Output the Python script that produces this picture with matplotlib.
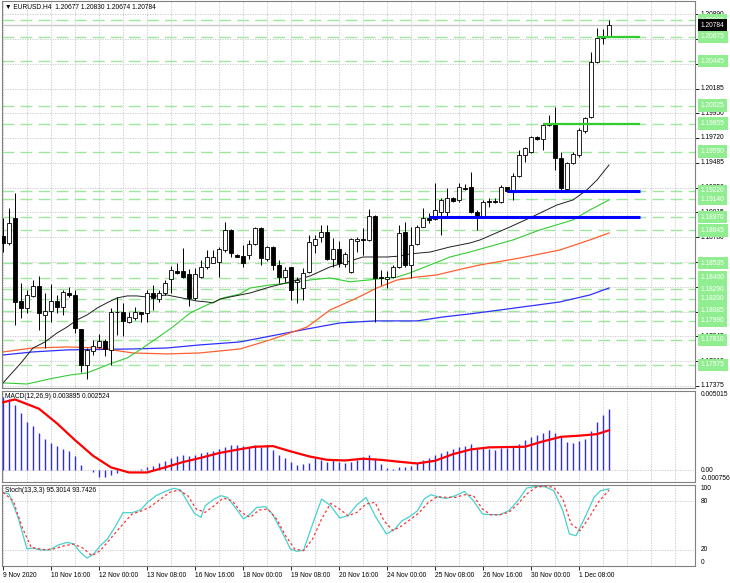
import matplotlib
matplotlib.use('Agg')
import matplotlib.pyplot as plt
import numpy as np

plt.rcParams['font.family'] = ['Liberation Sans', 'DejaVu Sans']
FS = 4.8

# EURUSD H4 candles, bar 0 = 9 Nov 2020 08:00
opens = [1.18792, 1.18730, 1.18960, 1.18182, 1.18109, 1.18226, 1.18320, 1.18046, 1.18087, 1.18182,
         1.18125, 1.18257, 1.18235, 1.17911, 1.17574, 1.17709, 1.17747, 1.17800, 1.17716, 1.18078,
         1.18078, 1.17983, 1.18015, 1.18078, 1.18062, 1.18251, 1.18194, 1.18251, 1.18383, 1.18465,
         1.18465, 1.18434, 1.18204, 1.18409, 1.18497, 1.18541, 1.18550, 1.18660, 1.18850, 1.18613,
         1.18604, 1.18613, 1.18717, 1.18871, 1.18572, 1.18686, 1.18519, 1.18408, 1.18497, 1.18361,
         1.18298, 1.18456, 1.18708, 1.18786, 1.18834, 1.18572, 1.18667, 1.18525, 1.18456, 1.18745,
         1.18764, 1.18755, 1.18982, 1.18402, 1.18390, 1.18402, 1.18503, 1.18830, 1.18519, 1.18717,
         1.18881, 1.18960, 1.18955, 1.19023, 1.19023, 1.19149, 1.19133, 1.19243, 1.19253, 1.19023,
         1.18969, 1.19123, 1.19127, 1.19117, 1.19253, 1.19227, 1.19360, 1.19560, 1.19586, 1.19731,
         1.19709, 1.19841, 1.19848, 1.19533, 1.19237, 1.19479, 1.19558, 1.19785, 1.19920, 1.20440,
         1.20666, 1.20677]
highs = [1.18960, 1.19054, 1.19196, 1.18346, 1.18283, 1.18377, 1.18415, 1.18251, 1.18339, 1.18235,
         1.18283, 1.18308, 1.18283, 1.17911, 1.17731, 1.17810, 1.17867, 1.17816, 1.18109, 1.18220,
         1.18163, 1.18078, 1.18125, 1.18078, 1.18283, 1.18330, 1.18283, 1.18377, 1.18509, 1.18535,
         1.18676, 1.18478, 1.18487, 1.18566, 1.18660, 1.18660, 1.18692, 1.18928, 1.18856, 1.18622,
         1.18708, 1.18755, 1.18881, 1.18881, 1.18698, 1.18698, 1.18566, 1.18503, 1.18503, 1.18408,
         1.18487, 1.18802, 1.18802, 1.18897, 1.18897, 1.18771, 1.18749, 1.18645, 1.18771, 1.18786,
         1.18865, 1.19045, 1.18991, 1.18471, 1.18465, 1.18519, 1.18897, 1.18928, 1.18881, 1.18897,
         1.19054, 1.19007, 1.19290, 1.19149, 1.19243, 1.19164, 1.19290, 1.19284, 1.19401, 1.19038,
         1.19133, 1.19149, 1.19149, 1.19275, 1.19259, 1.19385, 1.19605, 1.19637, 1.19741, 1.19741,
         1.19857, 1.19936, 1.20015, 1.19589, 1.19495, 1.19583, 1.19810, 1.19920, 1.20534, 1.20755,
         1.20748, 1.20830]
lows = [1.18645, 1.18708, 1.17952, 1.18015, 1.18062, 1.18220, 1.17905, 1.17731, 1.17983, 1.18062,
        1.18046, 1.18220, 1.17873, 1.17511, 1.17438, 1.17668, 1.17731, 1.17659, 1.17574, 1.17857,
        1.17848, 1.17968, 1.17999, 1.17983, 1.17983, 1.18094, 1.18172, 1.18235, 1.18251, 1.18434,
        1.18393, 1.18131, 1.18188, 1.18393, 1.18478, 1.18535, 1.18409, 1.18645, 1.18591, 1.18591,
        1.18503, 1.18572, 1.18708, 1.18519, 1.18560, 1.18471, 1.18345, 1.18361, 1.18188, 1.18156,
        1.18188, 1.18440, 1.18629, 1.18739, 1.18566, 1.18503, 1.18503, 1.18503, 1.18440, 1.18645,
        1.18613, 1.18749, 1.17983, 1.18330, 1.18298, 1.18393, 1.18487, 1.18503, 1.18393, 1.18708,
        1.18875, 1.18912, 1.18945, 1.18802, 1.18960, 1.19117, 1.19117, 1.19227, 1.19007, 1.18850,
        1.18960, 1.19070, 1.19101, 1.19101, 1.19212, 1.19133, 1.19353, 1.19495, 1.19574, 1.19700,
        1.19605, 1.19835, 1.19416, 1.19227, 1.19227, 1.19470, 1.19542, 1.19763, 1.19904, 1.20424,
        1.20603, 1.20674]
closes = [1.18724, 1.18919, 1.18172, 1.18109, 1.18235, 1.18320, 1.18068, 1.18087, 1.18182, 1.18125,
          1.18260, 1.18235, 1.17920, 1.17574, 1.17716, 1.17756, 1.17800, 1.17722, 1.18078, 1.18072,
          1.17993, 1.18031, 1.18078, 1.18056, 1.18257, 1.18204, 1.18251, 1.18346, 1.18472, 1.18446,
          1.18409, 1.18204, 1.18434, 1.18503, 1.18591, 1.18591, 1.18667, 1.18850, 1.18629, 1.18597,
          1.18534, 1.18717, 1.18871, 1.18582, 1.18686, 1.18519, 1.18408, 1.18471, 1.18282, 1.18377,
          1.18446, 1.18739, 1.18761, 1.18834, 1.18572, 1.18667, 1.18534, 1.18623, 1.18761, 1.18761,
          1.18752, 1.18982, 1.18393, 1.18393, 1.18408, 1.18503, 1.18818, 1.18519, 1.18708, 1.18881,
          1.18960, 1.18944, 1.19038, 1.19133, 1.19149, 1.19127, 1.19253, 1.19237, 1.19023, 1.18976,
          1.19117, 1.19111, 1.19114, 1.19253, 1.19221, 1.19360, 1.19558, 1.19621, 1.19731, 1.19709,
          1.19841, 1.19854, 1.19533, 1.19243, 1.19479, 1.19564, 1.19794, 1.19904, 1.20440, 1.20666,
          1.20676, 1.20784]

date_bars = [0, 8, 16, 24, 32, 40, 48, 56, 64, 72, 80, 88, 96]
date_labels = ['9 Nov 2020', '10 Nov 16:00', '12 Nov 00:00', '13 Nov 08:00', '16 Nov 16:00',
               '18 Nov 00:00', '19 Nov 08:00', '20 Nov 16:00', '24 Nov 00:00', '25 Nov 08:00',
               '26 Nov 16:00', '30 Nov 00:00', '1 Dec 08:00']

# moving averages, read at a few bars each
ma_black_bar = [0, 3, 5, 7, 9, 10.7, 12.3, 14, 15.7, 17.3, 19, 20.7, 22.3, 24, 25.7, 27.3, 29, 30.7,
                32.3, 34, 35, 36.2, 37.8, 39.5, 41.2, 44.5, 47.8, 51.2, 54.5, 57.3, 60, 64, 66.2,
                67.8, 71.2, 74.5, 77.8, 79.5, 84.5, 87.8, 92.3, 95, 97.3, 99, 101]
ma_black = [1.17404, 1.17593, 1.17734, 1.17791, 1.17876, 1.17933, 1.17999, 1.18046, 1.18112, 1.18160,
            1.18207, 1.18226, 1.18226, 1.18216, 1.18226, 1.18235, 1.18216, 1.18197, 1.18178, 1.18169,
            1.18160, 1.18197, 1.18216, 1.18235, 1.18254, 1.18311, 1.18358, 1.18415, 1.18500, 1.18547,
            1.18594, 1.18594, 1.18603, 1.18623, 1.18641, 1.18689, 1.18726, 1.18755, 1.18878, 1.18963,
            1.19085, 1.19133, 1.19227, 1.19322, 1.19463]
ma_green_bar = [0, 4, 7.8, 11.2, 14, 17.8, 20.7, 22.8, 25.7, 28.3, 31.2, 34, 36.7, 39.5, 41.2, 44.5,
                47.8, 51.2, 54.5, 57.8, 61, 65.7, 67.8, 71.2, 74.5, 77.8, 85, 89.5, 95, 97.8, 101]
ma_green = [1.17404, 1.17394, 1.17442, 1.17479, 1.17498, 1.17583, 1.17640, 1.17716, 1.17829, 1.17933,
            1.18065, 1.18141, 1.18207, 1.18245, 1.18301, 1.18330, 1.18349, 1.18377, 1.18396, 1.18360,
            1.18377, 1.18405, 1.18443, 1.18519, 1.18594, 1.18641, 1.18755, 1.18850, 1.18944, 1.19038,
            1.19133]
ma_orange_bar = [0, 5, 10.7, 16, 21.7, 27.3, 32.8, 39.5, 44.5, 50.7, 54.5, 59, 62.3, 65.7, 69, 72.3,
                 75.7, 79.5, 86.2, 92.8, 97.8, 101]
ma_orange = [1.17697, 1.17734, 1.17744, 1.17734, 1.17687, 1.17678, 1.17687, 1.17725, 1.17810, 1.17933,
             1.18093, 1.18207, 1.18301, 1.18377, 1.18405, 1.18424, 1.18471, 1.18519, 1.18585, 1.18660,
             1.18755, 1.18821]
ma_blue_bar = [0, 5, 10.7, 21.7, 27.3, 32.8, 39.5, 50.7, 56.2, 62, 69, 73.3, 77.8, 82.8, 92.8, 97.8, 101]
ma_blue = [1.17668, 1.17697, 1.17716, 1.17725, 1.17734, 1.17763, 1.17791, 1.17914, 1.17971, 1.17990,
           1.17990, 1.18027, 1.18056, 1.18093, 1.18169, 1.18235, 1.18301]

# dashed light green price levels
levels = [1.20830, 1.20675, 1.20445, 1.20025, 1.19855, 1.19590, 1.19220, 1.19140, 1.18970,
          1.18845, 1.18535, 1.18400, 1.18290, 1.18200, 1.18085, 1.17990, 1.17810, 1.17575]
support_levels = [1.19220, 1.18970]
support_start = [84, 71]
resist_levels = [1.20675, 1.19855]
resist_start = [99, 90]
line_end = 106.2
last_price = 1.20784

price_ticks = [1.17375, 1.17610, 1.17845, 1.18075, 1.18310, 1.18545, 1.18780, 1.19015,
               1.19250, 1.19485, 1.19720, 1.19950, 1.20185, 1.20420, 1.20655, 1.20890]

# MACD(12,26,9)
macd_hist = [0.00463, 0.00450, 0.00412, 0.00359, 0.00306, 0.00279, 0.00232, 0.00194, 0.00173, 0.00152,
             0.00131, 0.00123, 0.00089, 0.00032, -0.00002, -0.00011, -0.00042, -0.00046, -0.00032, -0.00017,
             -0.00004, 0.00001, -0.00001, 0.00004, 0.00021, 0.00025, 0.00046, 0.00059, 0.00074, 0.00089,
             0.00095, 0.00089, 0.00095, 0.00106, 0.00116, 0.00120, 0.00131, 0.00144, 0.00159, 0.00159,
             0.00152, 0.00148, 0.00159, 0.00148, 0.00159, 0.00127, 0.00095, 0.00074, 0.00053, 0.00032,
             0.00038, 0.00046, 0.00074, 0.00063, 0.00053, 0.00063, 0.00053, 0.00046, 0.00053, 0.00063,
             0.00085, 0.00095, 0.00074, 0.00038, 0.00015, 0.00004, 0.00017, 0.00021, 0.00025, 0.00042,
             0.00063, 0.00074, 0.00095, 0.00110, 0.00120, 0.00131, 0.00144, 0.00152, 0.00163, 0.00131,
             0.00137, 0.00133, 0.00127, 0.00137, 0.00137, 0.00148, 0.00165, 0.00190, 0.00207, 0.00222,
             0.00232, 0.00254, 0.00232, 0.00216, 0.00179, 0.00173, 0.00184, 0.00194, 0.00249, 0.00306,
             0.00349, 0.003895]
signal_bar = [0, 2, 6, 9, 12, 15, 18, 21, 24, 27, 30, 33, 36, 39, 42, 45, 48, 51, 54, 57, 60, 63,
              66, 69, 72, 75, 78, 81, 84, 87, 90, 93, 96, 99, 101]
signal = [0.00430, 0.00448, 0.00389, 0.00296, 0.00190, 0.00091, 0.00017, -0.00015, -0.00015, 0.00017,
          0.00051, 0.00078, 0.00108, 0.00129, 0.00148, 0.00152, 0.00118, 0.00087, 0.00065, 0.00061,
          0.00072, 0.00065, 0.00053, 0.00042, 0.00059, 0.00101, 0.00131, 0.00144, 0.00146, 0.00148,
          0.00182, 0.00211, 0.00218, 0.00228, 0.002524]

# Stochastic(13,3,3)
k_bar = [0, 1, 2.5, 4, 5, 6, 7.7, 9.2, 10.7, 11.8, 12.9, 14, 15.1, 16.2, 17.4, 18.8, 20, 21.5, 22.9,
         24.1, 25.5, 27, 28.5, 29.6, 30.8, 31.9, 33, 33.7, 35.2, 36.3, 37.4, 38.9, 40.1, 41.2, 42.3,
         43.8, 44.9, 46.4, 47.9, 49, 50.1, 51.6, 53.1, 54.6, 56.1, 57.5, 59, 60.5, 62, 63.9, 65.3,
         66.5, 67.6, 69.1, 70.2, 71.3, 72.8, 73.9, 75.4, 76.9, 78.4, 79.9, 81.3, 82.8, 84.3, 85.8,
         87.3, 88.8, 90.3, 91.8, 93.3, 94.4, 95.5, 97, 98.5, 99.6, 101]
k_val = [90.9, 88.9, 60.1, 21.0, 22.2, 20.1, 19.7, 25.9, 29.2, 27.1, 16.8, 9.8, 14.8, 25.1, 33.3,
         49.8, 65.8, 65.8, 69.1, 78.6, 86.8, 92.1, 95.9, 93.8, 78.6, 65.0, 60.1, 74.5, 82.7, 86.8,
         84.7, 70.3, 58.0, 64.2, 72.4, 73.2, 64.2, 43.6, 21.0, 18.1, 19.7, 51.8, 82.7, 74.5, 59.2,
         62.1, 75.7, 84.7, 62.1, 39.5, 45.6, 55.9, 60.1, 68.3, 82.7, 88.0, 84.7, 83.5, 86.8, 92.1,
         80.6, 64.2, 63.3, 63.3, 68.3, 80.6, 96.3, 98.3, 97.9, 93.0, 68.3, 39.5, 37.4, 60.1, 84.7,
         93.0, 95.3]
d_bar = [0, 1.7, 3.2, 4.7, 6.9, 8.4, 10.3, 11.8, 13.3, 14.8, 16.2, 18.1, 20, 21.5, 22.9, 24.4, 26.3,
         27.8, 29.3, 30.8, 32.2, 33.7, 35.2, 36.7, 38.2, 39.7, 41.2, 42.7, 44.1, 45.6, 47.1, 48.6,
         50.1, 51.6, 53.1, 54.6, 56.1, 57.5, 59, 60.5, 62, 63.5, 65, 66.5, 68, 69.4, 70.9, 72.4, 73.9,
         75.4, 76.9, 78.4, 79.9, 81.3, 82.8, 84.3, 85.8, 87.3, 88.8, 90.3, 91.8, 93.3, 94.7, 96.2,
         97.7, 99.2, 101]
d_val = [90.9, 80.6, 47.7, 23.0, 20.1, 21.0, 25.1, 27.1, 22.2, 12.7, 18.9, 35.4, 51.8, 64.2, 67.5,
         72.4, 82.7, 90.9, 93.8, 86.8, 70.3, 66.2, 74.5, 83.9, 80.6, 66.2, 60.1, 69.1, 70.3, 58.0,
         37.4, 21.0, 18.9, 33.3, 58.0, 77.3, 70.3, 62.1, 66.2, 76.5, 78.6, 55.9, 43.6, 49.8, 58.0,
         66.2, 78.6, 85.6, 84.7, 84.7, 88.0, 86.8, 70.3, 63.3, 63.3, 66.2, 76.5, 88.9, 97.1, 98.7,
         97.1, 82.7, 51.8, 43.6, 60.1, 78.6, 93.7]

W, H = 730, 583
fig = plt.figure(figsize=(W / 100, H / 100), dpi=100)


def panel(top, bottom):
    return fig.add_axes([2 / W, 1 - bottom / H, 693 / W, (bottom - top) / H])


ax = panel(1, 388)
axm = panel(391, 482)
axs = panel(485, 566)

x = np.arange(len(opens))
grid_kw = dict(color='#c4c4c4', lw=0.6, ls=(0, (1.5, 1.5)), zorder=0)
lx = 1 + 6 / 693

for a in (ax, axm, axs):
    a.set_xlim(-1 / 6, 115.33)
    for s in a.spines.values():
        s.set_color('#808080')
        s.set_linewidth(0.8)
    for g in range(0, 116, 4):
        a.axvline(g, **grid_kw)
    a.tick_params(axis='x', bottom=False, labelbottom=False)
    a.tick_params(axis='y', left=False, labelleft=False)

# main price panel
ax.set_ylim(1.17356, 1.21013)
for p in price_ticks:
    ax.axhline(p, **grid_kw)
ax.set_yticks(price_ticks)
ax.tick_params(axis='y', right=True, labelright=False, length=3, width=0.6)
for p in levels:
    ax.axhline(p, color='#9de89d', lw=1.0, ls=(0, (8.5, 4.5)), zorder=1)
ax.axhline(last_price, color='#c8c8c8', lw=1.0, zorder=1)

ax.plot(ma_blue_bar, ma_blue, color='#3030ff', lw=0.9, zorder=2)
ax.plot(ma_orange_bar, ma_orange, color='#ff6030', lw=0.9, zorder=2)
ax.plot(ma_green_bar, ma_green, color='#33cc33', lw=0.8, zorder=2)
ax.plot(ma_black_bar, ma_black, color='#202020', lw=0.7, zorder=2)

o = np.array(opens)
c = np.array(closes)
up = c >= o
ax.vlines(x, lows, highs, color='black', lw=0.7, zorder=3)
ax.bar(x, np.maximum(np.abs(c - o), 0.00002), bottom=np.minimum(o, c), width=0.66,
       color=np.where(up, 'white', 'black'), edgecolor='black', linewidth=0.6, zorder=4)

ax.hlines(support_levels, support_start, line_end, color='#0000ff', lw=2.2, zorder=6)
ax.hlines(resist_levels, resist_start, line_end, color='#33cc33', lw=1.6, zorder=6)

ytr = ax.get_yaxis_transform()
for p in price_ticks:
    ax.text(lx, p, f'{p:.5f}', transform=ytr, fontsize=FS, va='center', ha='left',
            clip_on=False, zorder=10)
for p in levels:
    ax.text(lx, p, f'{p:.5f}', transform=ytr, fontsize=FS, va='center', ha='left', color='white',
            clip_on=False, zorder=11,
            bbox=dict(boxstyle='square,pad=0.4', fc='#90ee90', ec='none'))
ax.text(lx, last_price, f'{last_price:.5f}', transform=ytr, fontsize=FS, va='center', ha='left',
        color='white', clip_on=False, zorder=12,
        bbox=dict(boxstyle='square,pad=0.4', fc='black', ec='none'))
ax.text(3 / 693, 1 - 6 / 387, '▼ EURUSD.H4  1.20677 1.20830 1.20674 1.20784',
        transform=ax.transAxes, fontsize=FS, va='center', ha='left', zorder=12)

# MACD panel
axm.set_ylim(-0.000756, 0.005015)
axm.axhline(0, **grid_kw)
axm.vlines(x, 0, macd_hist, color='#2a2aff', lw=1.0, zorder=2)
axm.plot(signal_bar, signal, color='#ff0000', lw=1.6, zorder=3)
axm.text(3 / 693, 1 - 6 / 91, 'MACD(12,26,9) 0.003895 0.002524', transform=axm.transAxes,
         fontsize=FS, va='center', ha='left')
axm.text(lx, 1, '0.005015', transform=axm.transAxes, fontsize=FS, va='top', ha='left', clip_on=False)
axm.text(lx, 0, '0.00', transform=axm.get_yaxis_transform(), fontsize=FS, va='center',
         ha='left', clip_on=False)
axm.text(lx, 0, '-0.000756', transform=axm.transAxes, fontsize=FS, va='bottom', ha='left',
         clip_on=False)

# Stochastic panel
axs.set_ylim(0, 100)
axs.axhline(20, **grid_kw)
axs.axhline(80, **grid_kw)
axs.plot(k_bar, k_val, color='#48d1cc', lw=0.9, zorder=2)
axs.plot(d_bar, d_val, color='#ff3030', lw=0.9, ls=(0, (2, 2)), zorder=3)
axs.text(3 / 693, 1 - 5 / 81, 'Stoch(13,3,3) 95.3014 93.7426', transform=axs.transAxes,
         fontsize=FS, va='center', ha='left')
syt = axs.get_yaxis_transform()
axs.text(lx, 100, '100', transform=syt, fontsize=FS, va='top', ha='left', clip_on=False)
axs.text(lx, 80, '80', transform=syt, fontsize=FS, va='center', ha='left', clip_on=False)
axs.text(lx, 20, '20', transform=syt, fontsize=FS, va='center', ha='left', clip_on=False)
axs.text(lx, 0, '0', transform=syt, fontsize=FS, va='bottom', ha='left', clip_on=False)

axs.set_xticks(date_bars)
axs.set_xticklabels(date_labels, fontsize=FS, ha='left')
axs.tick_params(axis='x', bottom=True, labelbottom=True, length=3, width=0.6, pad=1.5)

fig.savefig('out.png', dpi=100)
